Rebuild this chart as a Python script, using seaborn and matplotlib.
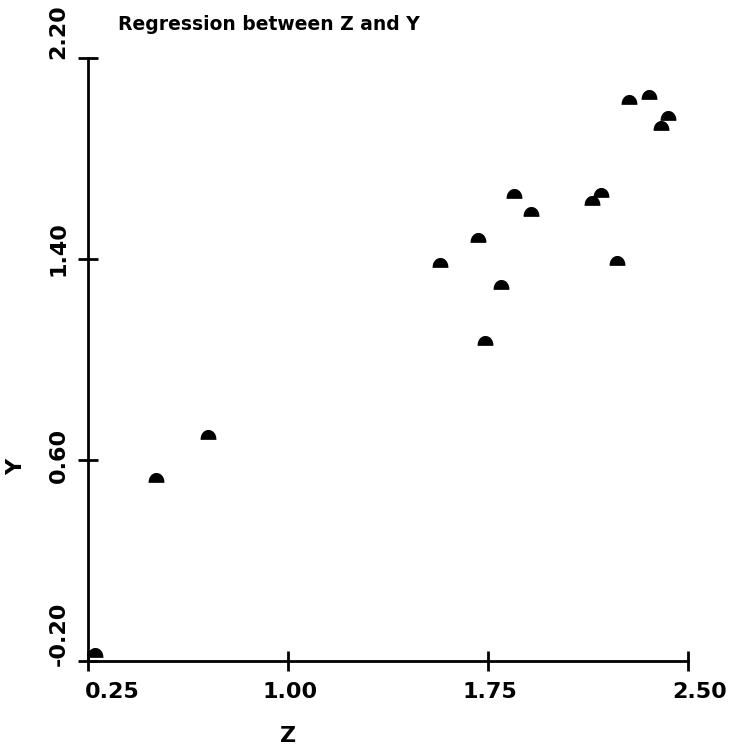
import matplotlib
matplotlib.use("Agg")
import matplotlib.pyplot as plt
import matplotlib.transforms as mtransforms
from matplotlib.path import Path
import numpy as np
import pandas as pd
import seaborn as sns

# ---- data ----
z_values = [0.276, 0.505, 0.701, 1.571, 1.714, 1.740, 1.799, 1.849, 1.911,
            2.140, 2.174, 2.233, 2.280, 2.353, 2.400, 2.426]
y_values = [-0.167, 0.527, 0.700, 1.384, 1.483, 1.073, 1.295, 1.657, 1.587,
            1.631, 1.661, 1.393, 2.033, 2.051, 1.931, 1.971]
x_ticks = [0.25, 1.00, 1.75, 2.50]
x_tick_labels = ["0.25", "1.00", "1.75", "2.50"]
y_ticks = [-0.20, 0.60, 1.40, 2.20]
y_tick_labels = ["-0.20", "0.60", "1.40", "2.20"]
title_text = "Regression between Z and Y"
x_label = "Z"
y_label = "Y"

df = pd.DataFrame({"Z": z_values, "Y": y_values})

sns.set_theme(style="white")
plt.rcParams['font.family'] = ['DejaVu Sans']

W, H = 740, 753
fig = plt.figure(figsize=(W / 100, H / 100), dpi=100)
ax = fig.add_axes([88 / W, 1 - 661 / H, 600 / W, 603 / H])

# dome-shaped marker (flat base, rounded top)
t = np.linspace(0, np.pi, 31)
verts = [(np.cos(a), 1.25 * np.sin(a) ** 0.9 - 0.55) for a in t]
verts.append(verts[0])
dome = Path(verts, closed=True)

sns.scatterplot(data=df, x="Z", y="Y", marker=dome, s=130, color="black",
                linewidth=0, ax=ax, legend=False)

ax.set_xlim(0.25, 2.50)
ax.set_ylim(-0.20, 2.20)
ax.set_xticks(x_ticks)
ax.set_xticklabels(x_tick_labels)
ax.set_yticks(y_ticks)
ax.set_yticklabels(y_tick_labels, rotation=90, va="center")

for side in ["top", "right"]:
    ax.spines[side].set_visible(False)
for side in ["left", "bottom"]:
    ax.spines[side].set_color("black")
    ax.spines[side].set_linewidth(2)

ax.tick_params(axis="both", which="major", direction="inout", length=14,
               width=2, color="black", bottom=True, left=True,
               labelsize=16, labelcolor="black")
ax.tick_params(axis="x", pad=8)
ax.tick_params(axis="y", pad=7)
for lab in ax.get_xticklabels() + ax.get_yticklabels():
    lab.set_fontweight("bold")

# per-label offsets (pixels)
x_off = [24, 2, 2, 12]
for lab, dx in zip(ax.get_xticklabels(), x_off):
    lab.set_transform(lab.get_transform() +
                      mtransforms.ScaledTranslation(dx / 100, 0, fig.dpi_scale_trans))
y_off = [27, 5, 10, 26]
for lab, dy in zip(ax.get_yticklabels(), y_off):
    lab.set_transform(lab.get_transform() +
                      mtransforms.ScaledTranslation(0, dy / 100, fig.dpi_scale_trans))

ax.set_xlabel(x_label, fontsize=16, fontweight="bold", va="top", color="black")
ax.xaxis.set_label_coords((288 - 88) / 600, (661 - 726) / 603)
ax.set_ylabel(y_label, fontsize=16, fontweight="bold", rotation=90, va="center",
              color="black")
ax.yaxis.set_label_coords((16 - 88) / 600, (661 - 467) / 603)

ax.text((118 - 88) / 600, (661 - 24) / 603, title_text, transform=ax.transAxes,
        fontsize=13.5, fontweight="bold", ha="left", va="center", color="black")

fig.savefig("out.png", dpi=100)
